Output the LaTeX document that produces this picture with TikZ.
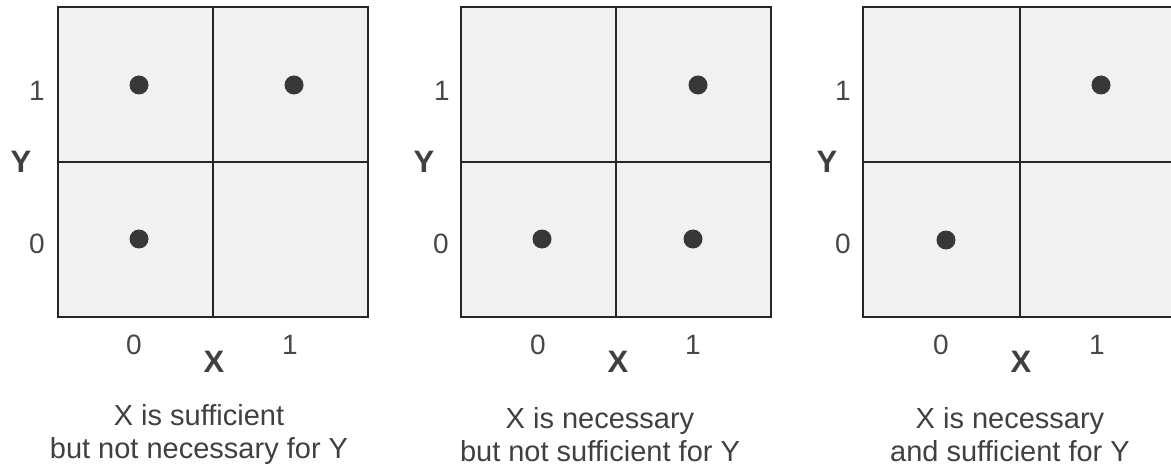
\documentclass[tikz,border=0pt]{standalone}
\usepackage{fontspec}
\setmainfont{Liberation Sans}
\begin{document}
\begin{tikzpicture}[x=1pt,y=-1pt,
  cellbox/.style={draw=black!85,line width=1.6pt,fill=gray!11},
  divider/.style={draw=black!85,line width=1.2pt},
  dot/.style={circle,fill=black!78,inner sep=0pt,minimum size=19pt},
  tick/.style={text=black!72,font=\fontsize{28}{28}\selectfont,inner sep=0pt},
  axis/.style={text=black!75,font=\fontsize{31}{31}\selectfont\bfseries,inner sep=0pt},
  caption/.style={text=black!75,font=\fontsize{29}{33}\selectfont,align=center,inner sep=0pt}]
\useasboundingbox (0,0) rectangle (1171,468);

% Panel 1: sufficient but not necessary
\begin{scope}[shift={(58,0)}]
  \draw[cellbox] (0,7) rectangle (310,317);
  \draw[divider] (155,7) -- (155,317);
  \draw[divider] (0,162) -- (310,162);
  \node[dot] (a01) at (81,85) {};
  \node[dot] (a11) at (236,85) {};
  \node[dot] (a00) at (81,239) {};
  \node[tick] (ay1) at (-21,91) {1};
  \node[tick] (ay0) at (-21,244) {0};
  \node[axis] (aY) at (-37,162) {Y};
  \node[tick] (ax0) at (76,345) {0};
  \node[tick] (ax1) at (232,345) {1};
  \node[axis] (aX) at (156,362) {X};
  \node[caption] (acap) at (141,435) {X is sufficient\\but not necessary for Y};
\end{scope}

% Panel 2: necessary but not sufficient
\begin{scope}[shift={(461,0)}]
  \draw[cellbox] (0,7) rectangle (310,317);
  \draw[divider] (155,7) -- (155,317);
  \draw[divider] (0,162) -- (310,162);
  \node[dot] (b11) at (237,85) {};
  \node[dot] (b00) at (81,239) {};
  \node[dot] (b10) at (232,239) {};
  \node[tick] (by1) at (-19,91) {1};
  \node[tick] (by0) at (-20,244) {0};
  \node[axis] (bY) at (-37,162) {Y};
  \node[tick] (bx0) at (77,345) {0};
  \node[tick] (bx1) at (232,345) {1};
  \node[axis] (bX) at (157,362) {X};
  \node[caption] (bcap) at (139,435) {X is necessary\\but not sufficient for Y};
\end{scope}

% Panel 3: necessary and sufficient
\begin{scope}[shift={(863,0)}]
  \draw[cellbox] (0,7) rectangle (310,317);
  \draw[divider] (157,7) -- (157,317);
  \draw[divider] (0,162) -- (310,162);
  \node[dot] (c11) at (238,85) {};
  \node[dot] (c00) at (83,240) {};
  \node[tick] (cy1) at (-20,91) {1};
  \node[tick] (cy0) at (-20,244) {0};
  \node[axis] (cY) at (-36,162) {Y};
  \node[tick] (cx0) at (78,345) {0};
  \node[tick] (cx1) at (234,345) {1};
  \node[axis] (cX) at (158,362) {X};
  \node[caption] (ccap) at (147,435) {X is necessary\\and sufficient for Y};
\end{scope}
\end{tikzpicture}
\end{document}
